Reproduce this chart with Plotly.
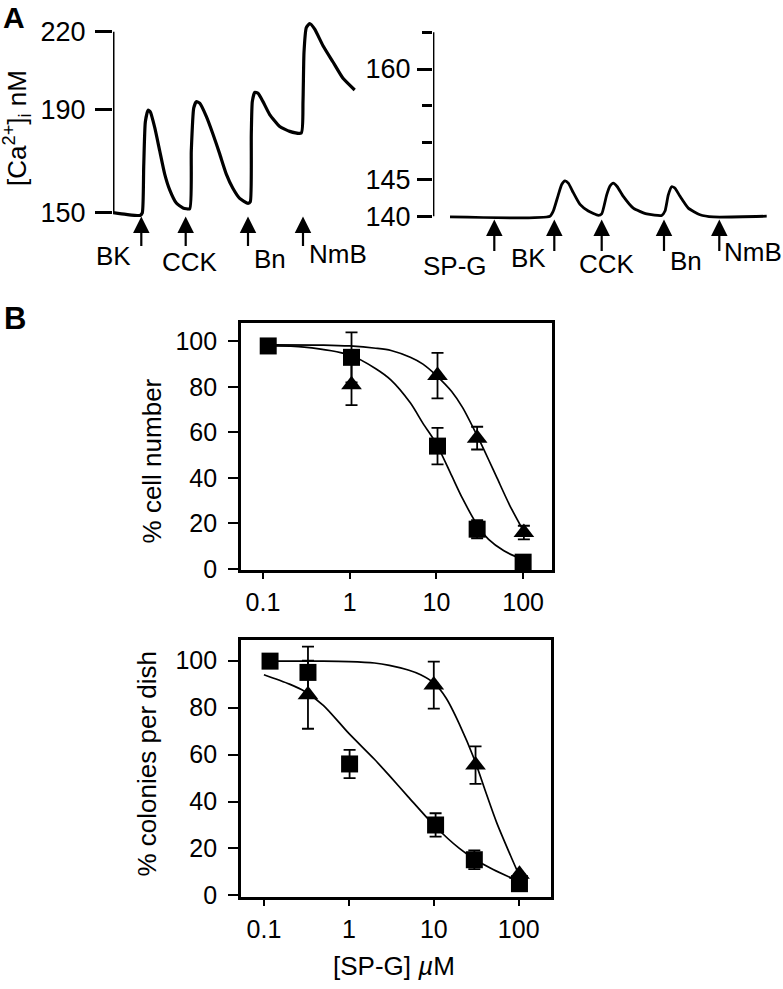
import plotly.graph_objects as go

FONT = "Liberation Sans, Arial, sans-serif"

# ---------------- Panel A (left trace, control) ----------------
a1_t = [0, 13, 27, 29.3, 30.7, 32.3, 35, 37.3, 41.7, 46.7, 51.7, 56.7, 63.3, 70, 76.7,
        78.3, 80.7, 83.3, 86.7, 93.3, 100, 106.7, 113.3, 120, 126.7, 135, 137.3,
        138.3, 139.3, 141.7, 145, 150, 156.7, 166.7, 176.7, 188.3, 190, 191, 193.3,
        196.7, 201.7, 210, 220, 230, 241.7]
a1_ca = [150.1, 149.4, 149, 150, 167.7, 185, 189.7, 189, 183, 174, 165, 158.9, 153.8, 151.9, 151.6,
         174, 190.5, 193, 192.4, 187.3, 180.4, 172.8, 165, 159.4, 155.6, 153.7, 154.3,
         180.4, 193, 196.6, 196.2, 193, 188, 183.4, 181.5, 180.9, 193, 212, 221.6,
         223.2, 221, 214.6, 208.3, 202, 197.5]
a1_stim_t = [28.3, 72.7, 135, 190]
a1_stim_lbl = ["BK", "CCK", "Bn", "NmB"]
a1_ticks = [150, 190, 220]

# ---------------- Panel A (right trace, with SP-G) ----------------
a2_t = [0, 100, 103.3, 108.3, 111.7, 115, 118.3, 123.3, 130, 138.3, 148.3,
        151.7, 156.7, 160, 163.3, 167.3, 173.3, 183.3, 196.7, 211.7,
        215, 218.3, 221.7, 225, 230, 238.3, 250, 263.3, 316.7]
a2_ca = [139.9, 140, 140.7, 142.9, 144.3, 144.8, 144.5, 143.2, 141.6, 140.7, 140.1,
         140.3, 142.9, 144.1, 144.5, 144, 142.7, 141.1, 140.3, 140.1,
         140.7, 142.9, 144, 143.8, 142.7, 141.1, 140.2, 139.9, 140]
a2_stim_t = [44.3, 104.3, 151.7, 214, 269.3]
a2_stim_lbl = ["SP-G", "BK", "CCK", "Bn", "NmB"]
a2_major = [140, 145, 160]
a2_minor = [150, 155, 165]

# ---------------- Panel B top (% cell number) ----------------
b1_sq_x = [0.115, 1.05, 10.3, 29.5, 100]
b1_sq_y = [98, 93, 54, 17.5, 3]
b1_sq_err = [0, 11, 8, 4, 0]
b1_tr_x = [1.05, 10.3, 29.5, 102]
b1_tr_y = [81, 85, 57.5, 16]
b1_tr_err = [9, 10, 5, 3]
b1_sq_fit_x = [0.12, 0.3, 1, 2, 3, 5, 7, 10, 15, 20, 30, 40, 60, 100]
b1_sq_fit_y = [98, 97.5, 94, 88, 83, 73, 64, 55, 41, 31, 19, 13, 8, 4]
b1_tr_fit_x = [0.12, 0.5, 1, 2, 3, 5, 7, 10, 15, 20, 30, 40, 50, 70, 100]
b1_tr_fit_y = [98.5, 98.4, 98, 97, 96, 93, 90, 85, 78, 71, 58, 48, 40, 28, 17]

# ---------------- Panel B bottom (% colonies per dish) ----------------
b2_sq_x = [0.118, 0.33, 1.02, 10.5, 30, 102]
b2_sq_y = [99.8, 95, 56, 30, 15.2, 5]
b2_sq_err = [0, 11, 6, 5, 4, 0]
b2_tr_x = [0.33, 10, 31, 102]
b2_tr_y = [85.5, 89.6, 55.5, 9]
b2_tr_err = [14.5, 10, 8, 0]
b2_sq_fit_x = [0.1, 0.2, 0.3, 0.5, 1, 2, 3, 5, 10, 20, 30, 50, 100]
b2_sq_fit_y = [94, 90, 87, 81, 69, 58, 51, 42, 30, 20, 15.5, 11, 6]
b2_tr_fit_x = [0.12, 0.5, 1, 2, 3, 5, 7, 10, 14, 20, 30, 40, 55, 80, 100]
b2_tr_fit_y = [99.8, 99.8, 99.6, 99, 98, 96, 94, 90.5, 84, 73, 58, 45, 31, 17, 9]

b_xticks = [0.1, 1, 10, 100]
b_yticks = [0, 20, 40, 60, 80, 100]

# ---------------- style (positions / sizes) ----------------
W, H = 783, 989
def px_x(p):
    return p / W
def px_y(p):
    return 1 - p / H

a1_lbl_style = [("right", -8, -40), ("center", 4, -46), ("left", 4, -43), ("left", 4, -38)]
a2_lbl_style = [("right", -5, -47), ("right", -6, -39), ("center", 5, -45), ("left", 4, -42), ("left", 3, -33)]
a1_tip, a2_tip = 148.6, 139.56

fig = go.Figure()

# Panel A traces
fig.add_trace(go.Scatter(x=a1_t, y=a1_ca, mode="lines",
                         line=dict(color="black", width=3.2, shape="spline", smoothing=0.5),
                         xaxis="x", yaxis="y", showlegend=False, hoverinfo="skip"))
fig.add_trace(go.Scatter(x=a2_t, y=a2_ca, mode="lines",
                         line=dict(color="black", width=2.8, shape="spline", smoothing=0.5),
                         xaxis="x2", yaxis="y2", showlegend=False, hoverinfo="skip"))

# Panel B fits
for fx, fy, xa, ya in [(b1_sq_fit_x, b1_sq_fit_y, "x3", "y3"), (b1_tr_fit_x, b1_tr_fit_y, "x3", "y3"),
                       (b2_sq_fit_x, b2_sq_fit_y, "x4", "y4"), (b2_tr_fit_x, b2_tr_fit_y, "x4", "y4")]:
    fig.add_trace(go.Scatter(x=fx, y=fy, mode="lines", line=dict(color="black", width=1.7, shape="spline", smoothing=0.8),
                             xaxis=xa, yaxis=ya, showlegend=False, hoverinfo="skip"))

# Panel B points
def pts(x, y, e, sym, xa, ya):
    return go.Scatter(x=x, y=y, mode="markers", xaxis=xa, yaxis=ya, showlegend=False, cliponaxis=False,
                      marker=dict(symbol=sym, size=17 if sym == "square" else 18, color="black"),
                      error_y=dict(type="data", array=e, visible=True, color="black", thickness=1.8, width=6))

fig.add_trace(pts(b1_sq_x, b1_sq_y, b1_sq_err, "square", "x3", "y3"))
fig.add_trace(pts(b1_tr_x, b1_tr_y, b1_tr_err, "triangle-up", "x3", "y3"))
fig.add_trace(pts(b2_sq_x, b2_sq_y, b2_sq_err, "square", "x4", "y4"))
fig.add_trace(pts(b2_tr_x, b2_tr_y, b2_tr_err, "triangle-up", "x4", "y4"))

hidden_x = dict(visible=False, showgrid=False, zeroline=False)

tickfont_a = dict(family=FONT, size=27, color="black")
tickfont_b = dict(family=FONT, size=25, color="black")

b_xaxis = dict(type="log", tickvals=b_xticks, ticktext=["0.1", "1", "10", "100"], ticks="outside",
               ticklen=6, tickwidth=2.2, tickcolor="black", showline=True, linewidth=2.8, linecolor="black",
               mirror=True, showgrid=False, zeroline=False, tickfont=tickfont_b, ticklabelstandoff=2)
b_yaxis = dict(tickvals=b_yticks, ticks="outside", ticklen=10, tickwidth=2.2, tickcolor="black",
               showline=True, linewidth=2.8, linecolor="black", mirror=True, showgrid=False,
               zeroline=False, tickfont=tickfont_b, ticklabelstandoff=6)

fig.update_layout(
    width=W, height=H, margin=dict(l=0, r=0, t=0, b=0),
    paper_bgcolor="white", plot_bgcolor="white",
    font=dict(family=FONT, color="black"),
    xaxis=dict(domain=[px_x(113), px_x(372)], range=[0, 259], **hidden_x),
    yaxis=dict(domain=[px_y(219.9), px_y(17.4)], range=[147.5, 224.5], anchor="x",
               tickvals=a1_ticks, ticks="outside", ticklen=17, tickwidth=2.8, tickcolor="black",
               showline=False, showgrid=False, zeroline=False, tickfont=tickfont_a, ticklabelstandoff=4),
    xaxis2=dict(domain=[px_x(433), 1.0], range=[-17, 333], anchor="y2", **hidden_x),
    yaxis2=dict(domain=[px_y(227.9), px_y(26)], range=[138.5, 165.5], anchor="x2",
                tickvals=a2_major, ticks="outside", ticklen=15, tickwidth=2.6, tickcolor="black",
                minor=dict(tickvals=a2_minor, ticks="outside", ticklen=10, tickwidth=2.6, tickcolor="black"),
                showline=False, showgrid=False, zeroline=False, tickfont=tickfont_a, ticklabelstandoff=1),
    xaxis3=dict(domain=[px_x(241), px_x(552)], range=[-1.253, 2.333], anchor="y3", **b_xaxis),
    yaxis3=dict(domain=[px_y(576), px_y(325)], range=[-0.3, 108.2], anchor="x3", **b_yaxis),
    xaxis4=dict(domain=[px_x(241), px_x(551)], range=[-1.27, 2.38], anchor="y4", **b_xaxis),
    yaxis4=dict(domain=[px_y(909), px_y(647)], range=[-0.8, 109], anchor="x4", **b_yaxis),
)

shapes = [
    dict(type="line", xref="x", yref="y", x0=0, x1=0, y0=a1_ticks[0], y1=a1_ticks[-1],
         line=dict(color="black", width=3)),
    dict(type="line", xref="x2", yref="y2", x0=-17, x1=-17, y0=a2_major[0], y1=a2_minor[-1],
         line=dict(color="black", width=2.8)),
]
fig.update_layout(shapes=shapes)

ann = []
for t, lbl, (xa, xs, ys) in zip(a1_stim_t, a1_stim_lbl, a1_lbl_style):
    ann.append(dict(x=t, y=a1_tip, xref="x", yref="y", text="", showarrow=True, ax=0, ay=31,
                    arrowhead=2, arrowsize=1.5, arrowwidth=2.2, arrowcolor="black", standoff=0))
    ann.append(dict(x=t, y=a1_tip, xref="x", yref="y", text=lbl, showarrow=False, xanchor=xa,
                    yanchor="middle", xshift=xs, yshift=ys, font=dict(family=FONT, size=26, color="black")))
for t, lbl, (xa, xs, ys) in zip(a2_stim_t, a2_stim_lbl, a2_lbl_style):
    ann.append(dict(x=t, y=a2_tip, xref="x2", yref="y2", text="", showarrow=True, ax=0, ay=33,
                    arrowhead=2, arrowsize=1.5, arrowwidth=2.2, arrowcolor="black", standoff=0))
    ann.append(dict(x=t, y=a2_tip, xref="x2", yref="y2", text=lbl, showarrow=False, xanchor=xa,
                    yanchor="middle", xshift=xs, yshift=ys, font=dict(family=FONT, size=26, color="black")))

# titles / panel letters
ann += [
    dict(x=px_x(17), y=px_y(127), xref="paper", yref="paper", text="[Ca<sup>2+</sup>]<sub>i</sub> nM",
         textangle=-90, showarrow=False, xanchor="center", yanchor="middle",
         font=dict(family=FONT, size=26, color="black")),
    dict(x=px_x(152), y=px_y(466), xref="paper", yref="paper", text="% cell number",
         textangle=-90, showarrow=False, xanchor="center", yanchor="middle",
         font=dict(family=FONT, size=26, color="black")),
    dict(x=px_x(147), y=px_y(774), xref="paper", yref="paper", text="% colonies per dish",
         textangle=-90, showarrow=False, xanchor="center", yanchor="middle",
         font=dict(family=FONT, size=26, color="black")),
    dict(x=px_x(394), y=px_y(979), xref="paper", yref="paper", text="[SP-G] <i>µ</i>M",
         showarrow=False, xanchor="center", yanchor="middle",
         font=dict(family=FONT, size=26, color="black")),
    dict(x=px_x(1), y=px_y(15), xref="paper", yref="paper", text="<b>A</b>",
         showarrow=False, xanchor="left", yanchor="middle", font=dict(family=FONT, size=30, color="black")),
    dict(x=px_x(2), y=px_y(321), xref="paper", yref="paper", text="<b>B</b>",
         showarrow=False, xanchor="left", yanchor="middle", font=dict(family=FONT, size=31, color="black")),
]
fig.update_layout(annotations=ann)

fig.write_html("out.html", config={"displayModeBar": False},
               post_script="document.body.style.margin='0px';document.body.style.overflow='hidden';")
